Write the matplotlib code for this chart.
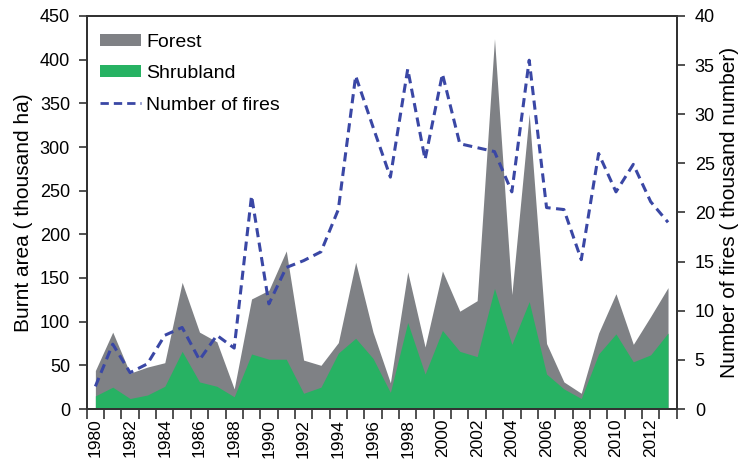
import matplotlib
matplotlib.use("Agg")
import matplotlib.pyplot as plt
from matplotlib.patches import Patch
from matplotlib.lines import Line2D
import numpy as np

plt.rcParams['font.family'] = ['Liberation Sans', 'DejaVu Sans']

years = list(range(1980, 2014))

# Burnt area, thousand ha (forest drawn behind shrubland)
forest = [44, 88, 41, 48, 53, 145, 88, 77, 23, 126, 136, 181,
          56, 50, 76, 168, 88, 30, 157, 71, 158, 112, 124, 424,
          131, 338, 75, 31, 18, 87, 132, 74, 106, 139]
shrubland = [15, 25, 12, 16, 26, 66, 31, 26, 14, 63, 57, 57,
             18, 25, 64, 81, 58, 19, 99, 40, 90, 66, 60, 138,
             74, 123, 40, 23, 12, 63, 86, 54, 62, 87]

# Number of fires, thousand
fires = [2.3, 6.6, 3.7, 4.6, 7.5, 8.3, 5.0, 7.5, 6.2, 21.7, 10.7, 14.4,
         15.1, 16.0, 20.3, 33.9, 28.7, 23.6, 34.6, 25.4, 34.1, 27.0, 26.6, 26.2,
         22.1, 35.5, 20.5, 20.3, 15.2, 26.0, 22.1, 24.9, 21.1, 19.0]

year_labels = [str(y) for y in years[::2]]

GRAY = '#7f8185'
GREEN = '#27b263'
BLUE = '#3a47a5'
SPINE = '#333333'
FS = 13

fig = plt.figure(figsize=(7.42, 4.67), dpi=100)
W, H = 742, 467
ax = fig.add_axes([86.7 / W, 1 - 409 / H, (676.7 - 86.7) / W, (409 - 16) / H])

x = np.arange(len(years))
ax.fill_between(x, forest, color=GRAY, lw=0)
ax.fill_between(x, shrubland, color=GREEN, lw=0)

ax.set_xlim(-0.5, len(years) - 0.5)
ax.set_ylim(0, 450)
ax.set_yticks(np.arange(0, 451, 50))

ax.set_xticks(x[::2])
ax.set_xticklabels(year_labels, rotation=90, fontsize=12.5)
ax.set_xticks(np.arange(-0.5, len(years), 1.0), minor=True)
ax.tick_params(axis='x', which='major', length=0, pad=7)
ax.tick_params(axis='x', which='minor', length=7, width=1.2, direction='out', color=SPINE)
ax.tick_params(axis='y', length=6, width=1.2, direction='out', labelsize=FS, pad=6, color=SPINE)
ax.set_ylabel('Burnt area ( thousand ha)', fontsize=15, labelpad=5)

ax2 = ax.twinx()
ax2.plot(x, fires, color=BLUE, lw=2.2, ls=(0, (3, 1.8)))
ax2.set_ylim(0, 40)
ax2.set_yticks(np.arange(0, 41, 5))
ax2.tick_params(axis='y', length=6, width=1.2, direction='out', labelsize=FS, pad=7, color=SPINE)
ax2.set_ylabel('Number of fires ( thousand number)', fontsize=15, labelpad=4)

for a in (ax, ax2):
    for s in a.spines.values():
        s.set_color(SPINE)
        s.set_linewidth(1.4)

handles = [Patch(facecolor=GRAY, edgecolor='none'),
           Patch(facecolor=GREEN, edgecolor='none'),
           Line2D([0], [0], color=BLUE, lw=2.0, ls=(0, (3, 1.8)))]
labels = ['Forest', 'Shrubland', 'Number of fires']
ax2.legend(handles, labels, loc='upper left', bbox_to_anchor=(0.0, 0.99),
           frameon=False, fontsize=14, handlelength=2.1, handleheight=0.55,
           handletextpad=0.25, labelspacing=0.75, borderaxespad=0.3)

fig.savefig('out.png', dpi=100)
